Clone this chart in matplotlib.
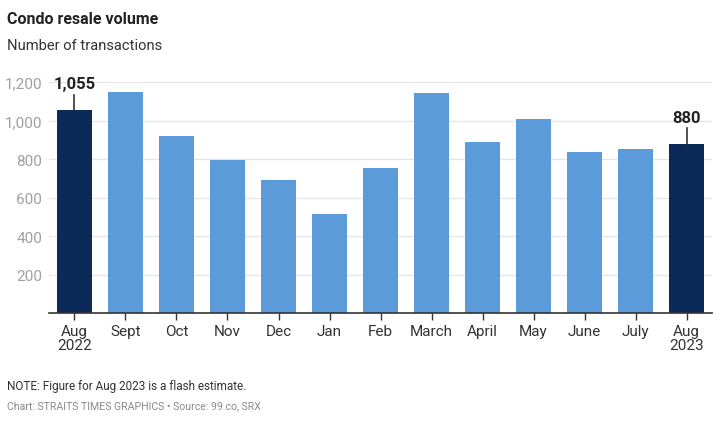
import matplotlib.pyplot as plt

months = ["Aug\n2022", "Sept", "Oct", "Nov", "Dec", "Jan", "Feb",
          "March", "April", "May", "June", "July", "Aug\n2023"]
volume = [1055, 1150, 922, 796, 691, 516, 753, 1144, 890, 1008, 840, 853, 880]
highlight = [True] + [False] * 11 + [True]
yticks = [200, 400, 600, 800, 1000, 1200]

plt.rcParams['font.family'] = ['Roboto', 'DejaVu Sans']

fig = plt.figure(figsize=(7.2, 4.27), dpi=100)
ax = fig.add_axes([0.068, 0.264, 0.921, 0.541])

colors = ["#0b2a57" if h else "#5b9bd9" for h in highlight]
x = list(range(len(months)))
ax.bar(x, volume, width=0.69, color=colors, zorder=2)

ax.set_xlim(-0.5, 12.5)
ax.set_ylim(0, 1200)
ax.set_yticks(yticks)
ax.set_yticklabels([f"{v:,}" for v in yticks])
ax.set_xticks(x)
ax.set_xticklabels(months, linespacing=1.0)

ax.grid(axis="y", color="#e6e6e6", linewidth=1, zorder=0)
ax.tick_params(axis="y", length=0, labelsize=11, labelcolor="#a0a0a0", pad=5)
ax.tick_params(axis="x", length=5, width=1, color="#333333", labelsize=11,
               labelcolor="#333333", pad=3)
for s in ["top", "right", "left"]:
    ax.spines[s].set_visible(False)
ax.spines["bottom"].set_color("#333333")
ax.spines["bottom"].set_linewidth(1.2)
ax.spines["bottom"].set_zorder(3)

# labels for the highlighted bars
for i in [0, 12]:
    v = volume[i]
    ax.plot([i, i], [v, v + 80], color="#333333", linewidth=1.2, clip_on=False)
    ax.text(i, v + 100, f"{v:,}", ha="center", va="bottom", fontsize=12,
            fontweight="bold", color="#222222")

fig.text(0.01, 0.955, "Condo resale volume", fontsize=11.5, fontweight="bold",
         color="#222222", va="center")
fig.text(0.01, 0.892, "Number of transactions", fontsize=10.6, color="#333333",
         va="center")
fig.text(0.01, 0.094, "NOTE: Figure for Aug 2023 is a flash estimate.",
         fontsize=8.5, color="#333333", va="center")
fig.text(0.01, 0.049, "Chart: STRAITS TIMES GRAPHICS \u2022 Source: 99.co, SRX",
         fontsize=7.6, color="#8a8a8a", va="center")

plt.savefig("out.png", dpi=100)
